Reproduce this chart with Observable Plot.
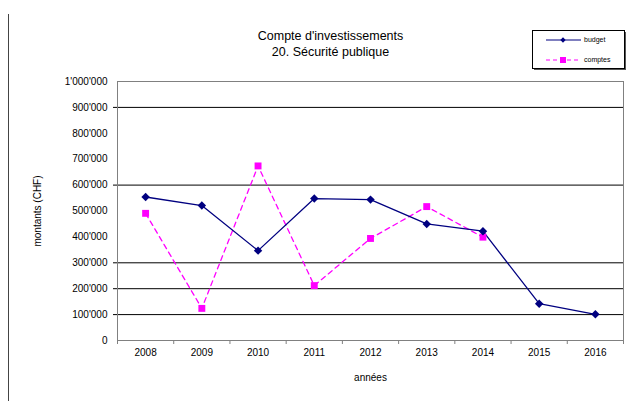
<!DOCTYPE html>
<html>
<head>
<meta charset="utf-8">
<script src="https://cdn.jsdelivr.net/npm/d3@7"></script>
<script src="https://cdn.jsdelivr.net/npm/@observablehq/plot@0.6"></script>
<style>
  body { margin: 0; background: #fff; }
</style>
</head>
<body>
<div id="chart"></div>
<script>
const years = [2008, 2009, 2010, 2011, 2012, 2013, 2014, 2015, 2016];
const budget = [554000, 521000, 347000, 548000, 544000, 450000, 422000, 142000, 101000];
const comptes = [491000, 124000, 674000, 212000, 394000, 517000, 399000];
const yTicks = [0, 100000, 200000, 300000, 400000, 500000, 600000, 700000, 800000, 900000, 1000000];
const gridTicks = [100000, 200000, 300000, 600000, 900000];
const bounds = [2007.5, 2008.5, 2009.5, 2010.5, 2011.5, 2012.5, 2013.5, 2014.5, 2015.5, 2016.5];
const titleLines = ["Compte d'investissements", "20. Sécurité publique"];
const seriesNames = ["budget", "comptes"];

const fmt = d3.formatLocale({decimal: ".", thousands: "'", grouping: [3], currency: ["", ""]}).format(",");
const budgetData = years.map((y, i) => ({year: y, value: budget[i]}));
const comptesData = comptes.map((v, i) => ({year: years[i], value: v}));

const plot = Plot.plot({
  width: 639, height: 401,
  marginLeft: 117, marginRight: 16, marginTop: 81, marginBottom: 61,
  style: {fontFamily: "'Liberation Sans', Arial, sans-serif", fontSize: "10px", color: "#000", background: "#fff"},
  x: {domain: [2007.5, 2016.5]},
  y: {domain: [0, 1000000]},
  marks: [
    Plot.ruleY(gridTicks, {stroke: "#000", strokeWidth: 1}),
    Plot.frame({stroke: "#808080"}),
    Plot.axisY({ticks: yTicks, tickSize: 0, tickPadding: 10, tickFormat: fmt, label: "montants (CHF)", labelAnchor: "center", labelArrow: "none", labelOffset: 84, fontSize: 10}),
    Plot.axisY({ticks: gridTicks, tickSize: 4, stroke: "#000", strokeOpacity: 1, tickFormat: () => "", label: null}),
    Plot.axisX({ticks: years, tickSize: 0, tickPadding: 8, tickFormat: d => String(d), label: "années", labelAnchor: "center", labelArrow: "none", labelOffset: 40, fontSize: 10}),
    Plot.axisX({ticks: bounds, tickSize: 4, stroke: "#808080", strokeOpacity: 1, tickFormat: () => "", label: null}),
    Plot.line(comptesData, {x: "year", y: "value", stroke: "#ff00ff", strokeWidth: 1.3, strokeDasharray: "5,4"}),
    Plot.line(budgetData, {x: "year", y: "value", stroke: "#000080", strokeWidth: 1.3}),
    Plot.dot(comptesData, {x: "year", y: "value", symbol: "square", r: 3.9, fill: "#ff00ff", stroke: "none"}),
    Plot.dot(budgetData, {x: "year", y: "value", symbol: "diamond2", r: 3.8, fill: "#000080", stroke: "none"}),
    Plot.text([titleLines.join("\n")], {frameAnchor: "top", dx: -40, dy: -53, fontSize: 12.5, lineHeight: 1.3, fill: "#000"})
  ]
});

document.getElementById("chart").appendChild(plot);

// decorative legend and left border line
const svg = d3.select(plot);
svg.append("line").attr("x1", 8.5).attr("x2", 8.5).attr("y1", 14).attr("y2", 401).attr("stroke", "#444");
const lg = svg.append("g");
lg.append("rect").attr("x", 534).attr("y", 32).attr("width", 92).attr("height", 38).attr("fill", "#555");
lg.append("rect").attr("x", 532.5).attr("y", 30.5).attr("width", 92).attr("height", 38).attr("fill", "#fff").attr("stroke", "#000");
lg.append("line").attr("x1", 546).attr("x2", 581).attr("y1", 40).attr("y2", 40).attr("stroke", "#000080").attr("stroke-width", 1.2);
lg.append("path").attr("d", d3.symbol(d3.symbolSquare, 14)()).attr("transform", "translate(563,40) rotate(45)").attr("fill", "#000080");
lg.append("line").attr("x1", 546).attr("x2", 581).attr("y1", 60).attr("y2", 60).attr("stroke", "#ff00ff").attr("stroke-width", 1.2).attr("stroke-dasharray", "4,3");
lg.append("rect").attr("x", 560).attr("y", 57).attr("width", 6).attr("height", 6).attr("fill", "#ff00ff");
lg.selectAll("text.lg").data(seriesNames).join("text")
  .attr("x", 584).attr("y", (d, i) => 40 + i * 20).attr("dy", "0.35em")
  .attr("text-anchor", "start")
  .attr("font-size", 7).attr("font-family", "'Liberation Sans', Arial, sans-serif").attr("fill", "#000")
  .text(d => d);
</script>
</body>
</html>
